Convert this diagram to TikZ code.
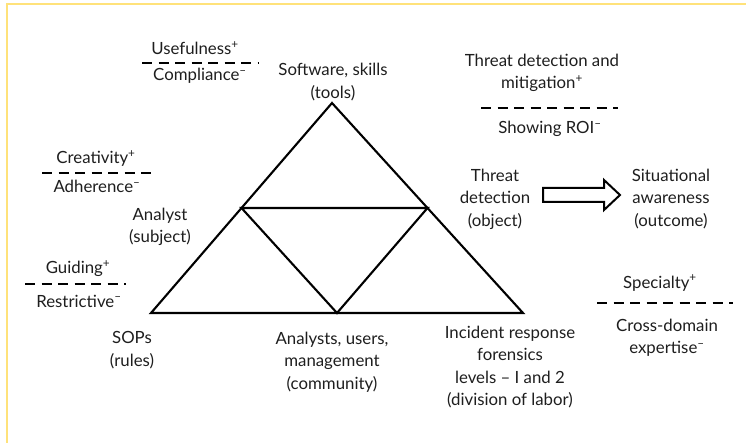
\documentclass[tikz,border=0pt]{standalone}
\usepackage{fontspec}
\setmainfont{Lato}
\usetikzlibrary{calc}
\definecolor{Ink}{HTML}{000000}
\definecolor{TextGray}{HTML}{1E1E1E}
\definecolor{FrameYellow}{HTML}{FFE27A}
\newcommand{\plusmark}{\textsuperscript{+}}
\newcommand{\minusmark}{\textsuperscript{–}}
\tikzset{
  atLabel/.style={align=center,text=TextGray,inner sep=0pt,
    font=\fontsize{16.8}{22.4}\selectfont},
  tradeText/.style={atLabel,anchor=base},
  tradeLine/.style={draw=Ink,line width=2.4pt,dash pattern=on 10pt off 6.5pt},
  triEdge/.style={draw=Ink,line width=2.1pt,line join=miter},
  hollowArrow/.style={draw=Ink,line width=2pt,fill=white,line join=miter},
  frameLine/.style={draw=FrameYellow,line width=1.6pt}
}

\begin{document}
\begin{tikzpicture}[x=1pt,y=-1pt]
  \useasboundingbox (0,0) rectangle (746,443);
  \draw[frameLine] (7,443) -- (7,4) -- (746,4);

  % activity triangle
  \coordinate (top) at (332,103);
  \coordinate (bl) at (151,313);
  \coordinate (br) at (523,313);
  \coordinate (ml) at ($(top)!0.5!(bl)$);
  \coordinate (mr) at ($(top)!0.5!(br)$);
  \coordinate (mb) at ($(bl)!0.5!(br)$);
  \draw[triEdge] (top) -- (bl) -- (br) -- cycle;
  \draw[triEdge] (ml) -- (mr) -- (mb) -- cycle;

  % corner labels
  \node[atLabel] (tools) at (333,82) {Software, skills\\(tools)};
  \node[atLabel] (subject) at (160,227) {Analyst\\(subject)};
  \node[atLabel] (object) at (495,199) {Threat\\detection\\(object)};
  \node[atLabel] (outcome) at (671,199) {Situational\\awareness\\(outcome)};
  \node[atLabel] (rules) at (132,350) {SOPs\\(rules)};
  \node[atLabel] (community) at (332,362) {Analysts, users,\\management\\(community)};
  \node[atLabel] (labor) at (510,367) {Incident response\\forensics\\levels -- I and 2\\(division of labor)};

  % object -> outcome
  \coordinate (arrowTail) at (543,195);
  \draw[hollowArrow] (arrowTail) ++(0,-7) -- ++(61,0) -- ++(0,-8) -- ++(16,15)
    -- ++(-16,15) -- ++(0,-8) -- ++(-61,0) -- cycle;

  % contradictions
  \node[tradeText] (useful) at (195,55) {Usefulness\plusmark};
  \draw[tradeLine] (142,63) -- (258,63);
  \node[tradeText] (comply) at (200,81) {Compliance\minusmark};

  \node[tradeText] (creative) at (96,164) {Creativity\plusmark};
  \draw[tradeLine] (42,173) -- (153,173);
  \node[tradeText] (adhere) at (97,193) {Adherence\minusmark};

  \node[tradeText] (guide) at (78,274) {Guiding\plusmark};
  \draw[tradeLine] (25,284) -- (126,284);
  \node[tradeText] (restrict) at (79,307) {Restrictive\minusmark};

  \node[atLabel] (mitigate) at (542,73) {Threat detection and\\mitigation\plusmark};
  \draw[tradeLine] (481,108) -- (618,108);
  \node[tradeText] (roi) at (550,134) {Showing ROI\minusmark};

  \node[tradeText] (special) at (660,288) {Specialty\plusmark};
  \draw[tradeLine] (597,303) -- (733,303);
  \node[atLabel] (crossdom) at (667,338) {Cross-domain\\expertise\minusmark};
\end{tikzpicture}
\end{document}
